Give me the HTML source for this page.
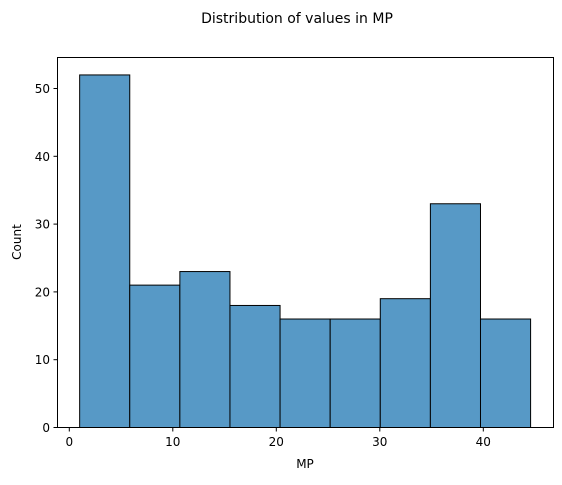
<!DOCTYPE html>
<html><head><meta charset="utf-8"><style>
body{margin:0;background:#fff;font-family:"Liberation Sans","DejaVu Sans",sans-serif}
svg text{font-family:"DejaVu Sans","Liberation Sans",sans-serif;fill:#000}
</style></head><body>
<svg id="c" width="562" height="480">
<text x="297" y="23" font-size="14" text-anchor="middle">Distribution of values in MP</text>
<g id="bars"></g>
<rect x="57.5" y="57.5" width="496" height="370" fill="none" stroke="#000" stroke-width="1"/>
<g id="axes"></g>
<text x="305" y="468" font-size="12" text-anchor="middle">MP</text>
<text x="21" y="242" font-size="12" text-anchor="middle" transform="rotate(-90 21 242)">Count</text>
</svg>
<script>
const binMin = 1.0;
const binMax = 44.57;
const counts = [52, 21, 23, 18, 16, 16, 19, 33, 16];
const xTicks = [0, 10, 20, 30, 40];
const yTicks = [0, 10, 20, 30, 40, 50];
const NS = "http://www.w3.org/2000/svg";
function xs(v){ return 69.3 + v * 10.35; }
function ys(v){ return 427.5 - v * 6.78; }
const bars = document.getElementById('bars');
const axes = document.getElementById('axes');
const w = (binMax - binMin) / counts.length;
counts.forEach((c, i) => {
  const r = document.createElementNS(NS, 'rect');
  const x0 = xs(binMin + i * w), x1 = xs(binMin + (i + 1) * w);
  r.setAttribute('x', x0); r.setAttribute('width', x1 - x0);
  r.setAttribute('y', ys(c)); r.setAttribute('height', ys(0) - ys(c));
  r.setAttribute('fill', '#5799c6'); r.setAttribute('stroke', '#000'); r.setAttribute('stroke-width', '1');
  
  
  bars.appendChild(r);
});
xTicks.forEach(t => {
  const l = document.createElementNS(NS, 'line');
  l.setAttribute('x1', xs(t)); l.setAttribute('x2', xs(t)); l.setAttribute('y1', 427.5); l.setAttribute('y2', 431.5);
  l.setAttribute('stroke', '#000');
  
  
  axes.appendChild(l);
  const tx = document.createElementNS(NS, 'text');
  tx.setAttribute('x', xs(t)); tx.setAttribute('y', 446); tx.setAttribute('font-size', '12'); tx.setAttribute('text-anchor', 'middle');
  tx.textContent = t;
  
  
  axes.appendChild(tx);
});
yTicks.forEach(t => {
  const l = document.createElementNS(NS, 'line');
  l.setAttribute('x1', 53.5); l.setAttribute('x2', 57.5); l.setAttribute('y1', ys(t)); l.setAttribute('y2', ys(t));
  l.setAttribute('stroke', '#000');
  
  
  axes.appendChild(l);
  const tx = document.createElementNS(NS, 'text');
  tx.setAttribute('x', 50); tx.setAttribute('y', ys(t) + 4.5); tx.setAttribute('font-size', '12'); tx.setAttribute('text-anchor', 'end');
  tx.textContent = t;
  
  
  axes.appendChild(tx);
});
</script>
</body></html>
